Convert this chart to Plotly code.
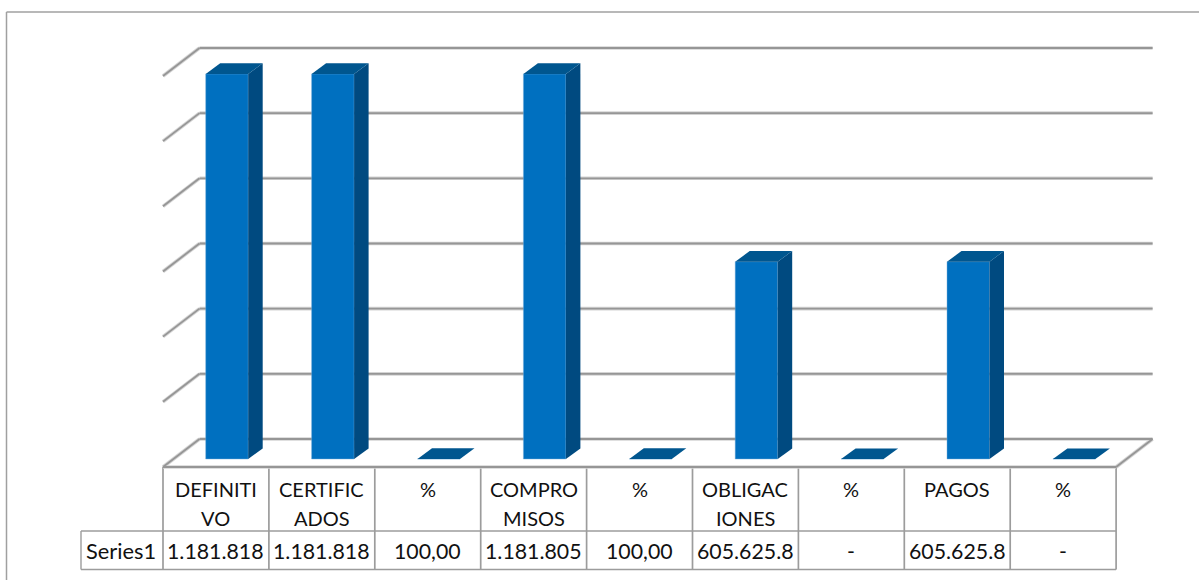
import plotly.graph_objects as go

# ---- data ----
header_line1 = ["DEFINITI", "CERTIFIC", "%", "COMPRO", "%", "OBLIGAC", "%", "PAGOS", "%"]
header_line2 = ["VO", "ADOS", "", "MISOS", "", "IONES", "", "", ""]
value_labels = ["1.181.818", "1.181.818", "100,00", "1.181.805", "100,00", "605.625.8", "-", "605.625.8", "-"]
series_name = "Series1"
values = [1181818, 1181818, 100, 1181805, 100, 605625.8, 0, 605625.8, 0]
grid_values = [0, 200000, 400000, 600000, 800000, 1000000, 1200000]

# ---- geometry ----
W, H = 1199, 580
COL = 105.9
X0 = 163.0            # px of table left edge / floor front-left
Y0 = 467.0            # px of floor front edge
UNIT = 65.17 / 200000 # px per value unit
DEPTH_X, DEPTH_Y = 36.5, 28.0  # floor depth in px
BAR_W = 42.5 / COL
BAR_SHIFT = 11.0 / COL
BAR_FRONT_UP = 8.0
BAR_DX, BAR_DY = 14.5, 10.6

FRONT = "#0070C0"
TOP = "#00568F"
SIDE = "#004A80"
GRID = "#969696"
GRID_SOFT = "#d4d4d4"
TABLE = "#9c9c9c"
FONT = "Lato"
FS_HEAD = 20
FS_VAL = 21.3


def xdata(px):
    return (px - X0) / COL - 0.5


def ydata(px):
    return (Y0 - px) / UNIT


def ypaper(px):
    return 1 - px / H


dxu = 1 / COL
dyu = 1 / UNIT
fig = go.Figure()

base = BAR_FRONT_UP * dyu
centers = [i + BAR_SHIFT for i in range(len(values))]
fig.add_trace(go.Bar(x=centers, y=values, base=base, width=BAR_W,
                     marker=dict(color=FRONT, line=dict(color="rgba(120,175,220,0.45)", width=1)),
                     hoverinfo="skip", showlegend=False))

for c, v in zip(centers, values):
    L, R = c - BAR_W / 2, c + BAR_W / 2
    t = base + v
    ox, oy = BAR_DX * dxu, BAR_DY * dyu
    if v > 1000:
        fig.add_trace(go.Scatter(x=[R, R + ox, R + ox, R, R], y=[base, base + oy, t + oy, t, base],
                                 mode="none", fill="toself", fillcolor=SIDE,
                                 hoverinfo="skip", showlegend=False))
    fig.add_trace(go.Scatter(x=[L, R, R + ox, L + ox, L], y=[t, t, t + oy, t + oy, t],
                             mode="none", fill="toself", fillcolor=TOP,
                             hoverinfo="skip", showlegend=False))

shapes = []


def seg(x1, y1, x2, y2, color, width, xref="x", yref="y", layer="below"):
    shapes.append(dict(type="line", x0=x1, y0=y1, x1=x2, y1=y2, xref=xref, yref=yref,
                       layer=layer, line=dict(color=color, width=width)))


n = len(values)
x_left, x_right = -0.5, n - 0.5
dx, dy = DEPTH_X * dxu, DEPTH_Y * dyu
for color, width in ((GRID_SOFT, 3.6), (GRID, 1.8)):
    for g in grid_values:
        seg(x_left + dx, g + dy, x_right + dx, g + dy, color, width)
        seg(x_left, g, x_left + dx, g + dy, color, width)
    seg(x_left, 0, x_right, 0, color, width)
    seg(x_right, 0, x_right + dx, dy, color, width)

# table
rule_top = ypaper(Y0)
rule_mid = ypaper(531)
rule_bot = ypaper(569.5)
for i in range(n + 1):
    seg(i - 0.5, rule_top, i - 0.5, rule_bot, TABLE, 1.7, "x", "paper")
seg(x_left, rule_mid, x_right, rule_mid, TABLE, 1.4, "x", "paper")
seg(xdata(81), rule_bot, x_right, rule_bot, TABLE, 1.7, "x", "paper")
seg(xdata(81), rule_mid, x_left, rule_mid, TABLE, 1.4, "x", "paper")
seg(xdata(81), rule_mid, xdata(81), rule_bot, TABLE, 1.4, "x", "paper")

# outer frame
seg(xdata(6.5), ypaper(12), xdata(6.5), ypaper(H), "#a0a0a0", 1.5, "x", "paper")
seg(xdata(6.5), ypaper(12), xdata(W), ypaper(12), "#a0a0a0", 1.5, "x", "paper")

annotations = []


def label(x, py, text, size):
    annotations.append(dict(x=x, y=ypaper(py), xref="x", yref="paper", text=text, showarrow=False,
                            xanchor="center", yanchor="middle",
                            font=dict(family=FONT, size=size, color="#111111")))


for i in range(n):
    label(i, 489, header_line1[i], FS_HEAD)
    if header_line2[i]:
        label(i, 518, header_line2[i], FS_HEAD)
    label(i, 551, value_labels[i], FS_VAL)
label(xdata(121), 550, series_name, 21.8)

fig.update_layout(
    width=W, height=H, margin=dict(l=0, r=0, t=0, b=0),
    paper_bgcolor="white", plot_bgcolor="white",
    xaxis=dict(range=[xdata(0), xdata(W)], visible=False, fixedrange=True),
    yaxis=dict(range=[ydata(H), ydata(0)], visible=False, fixedrange=True),
    shapes=shapes, annotations=annotations, showlegend=False,
)

fig.write_html("out.html", config={"displayModeBar": False},
               post_script="document.body.style.margin='0';")
